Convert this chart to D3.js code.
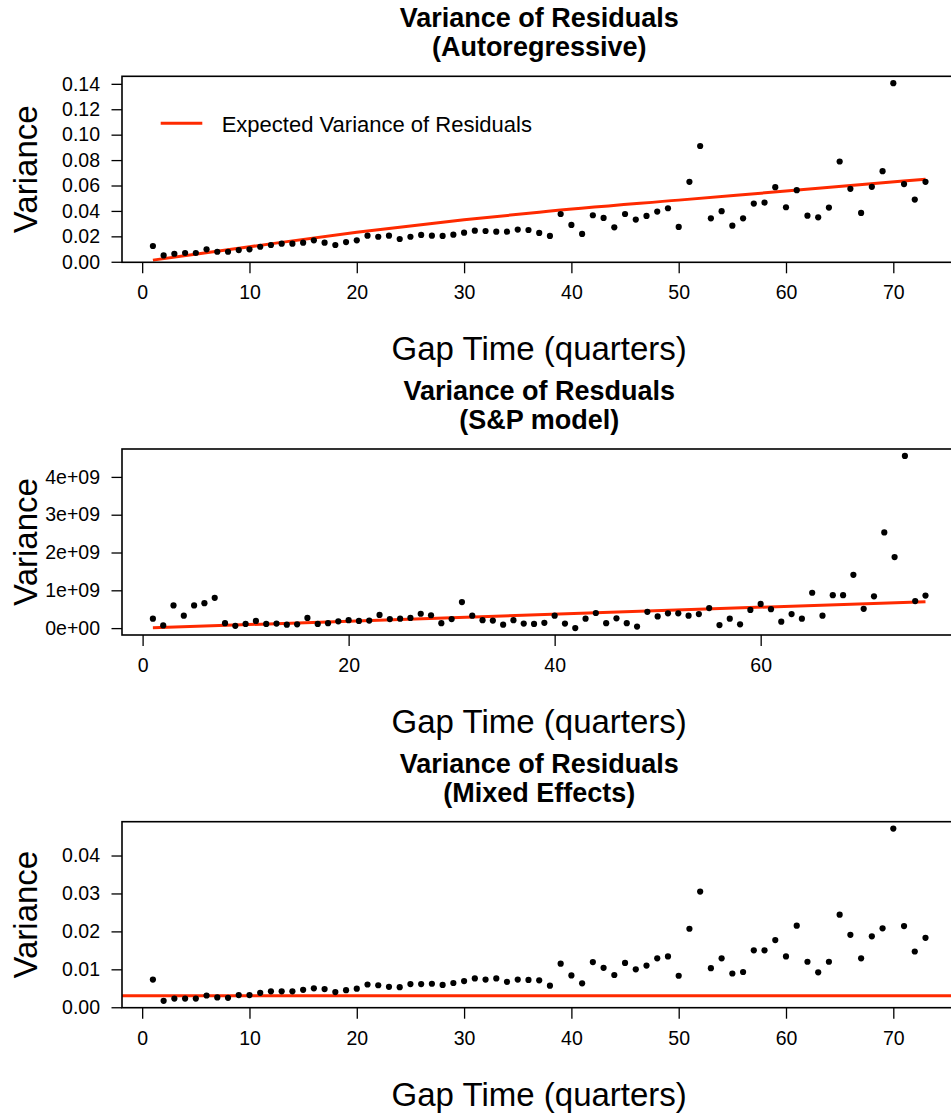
<!DOCTYPE html>
<html>
<head>
<meta charset="utf-8">
<script src="https://cdn.jsdelivr.net/npm/d3@7"></script>
<style>
body { margin: 0; background: #fff; }
svg { display: block; font-family: "Liberation Sans", Arial, Helvetica, sans-serif; }
</style>
</head>
<body>
<div id="chart"></div>
<script>
// residual variance by gap time (index 0 = 1 quarter)
var arVar = [0.0124, 0.0050, 0.0063, 0.0069, 0.0069, 0.0098, 0.0079, 0.0079, 0.0092, 0.0098,
             0.0118, 0.0132, 0.0142, 0.0142, 0.0150, 0.0169, 0.0150, 0.0132, 0.0155, 0.0169,
             0.0205, 0.0197, 0.0205, 0.0179, 0.0197, 0.0211, 0.0205, 0.0203, 0.0213, 0.0229,
             0.0245, 0.0242, 0.0237, 0.0237, 0.0253, 0.0250, 0.0227, 0.0203, 0.0376, 0.0290,
             0.0219, 0.0366, 0.0345, 0.0271, 0.0376, 0.0332, 0.0361, 0.0395, 0.0421, 0.0274,
             0.0629, 0.0911, 0.0342, 0.0398, 0.0284, 0.0342, 0.0458, 0.0466, 0.0587, 0.0429,
             0.0563, 0.0363, 0.0350, 0.0426, 0.0789, 0.0574, 0.0384, 0.0590, 0.0713, 0.1405,
             0.0611, 0.0489, 0.0629];

// S&P model, in units of 1e9
var spVar = [0.25, 0.07, 0.60, 0.33, 0.60, 0.66, 0.80, 0.13, 0.06, 0.11,
             0.19, 0.11, 0.12, 0.09, 0.10, 0.27, 0.11, 0.13, 0.18, 0.21,
             0.19, 0.20, 0.35, 0.24, 0.25, 0.27, 0.38, 0.34, 0.13, 0.24,
             0.69, 0.33, 0.21, 0.20, 0.09, 0.21, 0.12, 0.11, 0.14, 0.33,
             0.12, 0.00, 0.25, 0.40, 0.13, 0.26, 0.13, 0.04, 0.43, 0.31,
             0.39, 0.39, 0.33, 0.37, 0.53, 0.08, 0.25, 0.10, 0.48, 0.64,
             0.50, 0.17, 0.37, 0.25, 0.935, 0.33, 0.87, 0.87, 1.41, 0.51,
             0.84, 2.53, 1.88, 4.556, 0.715, 0.86];

var meVar = [0.0073, 0.0017, 0.0023, 0.0023, 0.0023, 0.0031, 0.0026, 0.0025, 0.0032, 0.0032,
             0.0038, 0.0042, 0.0042, 0.0042, 0.0046, 0.0050, 0.0048, 0.0040, 0.0045, 0.0049,
             0.0060, 0.0058, 0.0054, 0.0053, 0.0061, 0.0061, 0.0062, 0.0059, 0.0064, 0.0069,
             0.0076, 0.0073, 0.0076, 0.0067, 0.0073, 0.0072, 0.0071, 0.0057, 0.0115, 0.0084,
             0.0063, 0.0119, 0.0104, 0.0085, 0.0117, 0.0100, 0.0110, 0.0129, 0.0134, 0.0083,
             0.0207, 0.0305, 0.0103, 0.0129, 0.0089, 0.0093, 0.0150, 0.0150, 0.0177, 0.0134,
             0.0215, 0.0120, 0.0092, 0.0120, 0.0244, 0.0191, 0.0129, 0.0187, 0.0208, 0.0471,
             0.0214, 0.0147, 0.0183];

// expected variance lines
var arExpGap = [1, 10, 20, 30, 37, 50, 60, 73];
var arExpVal = [0.0013, 0.0118, 0.0232, 0.0330, 0.0390, 0.0485, 0.0556, 0.0650];
var spExpGap = [1, 76];
var spExpVal = [0.008, 0.70];
var meExpLevel = 0.00306;

var arYTicks = [0, 0.02, 0.04, 0.06, 0.08, 0.10, 0.12, 0.14];
var spYTicks = [0, 1, 2, 3, 4];
var spYLabels = ["0e+00", "1e+09", "2e+09", "3e+09", "4e+09"];
var meYTicks = [0, 0.01, 0.02, 0.03, 0.04];
var gapTicks70 = [0, 10, 20, 30, 40, 50, 60, 70];
var gapTicks60 = [0, 20, 40, 60];

var W = 951, H = 1114;
var left = 122, right = 956.4, boxH = 186, firstTop = 76.3, step = 372.7;
var red = "#fe2a00";

var svg = d3.select("#chart").append("svg")
    .attr("width", W).attr("height", H);

// R-like range: data extent padded by 4% each side
function pad(lo, hi) {
    var r = hi - lo;
    return [lo - 0.04 * r, hi + 0.04 * r];
}

function drawPanel(i, o) {
    var top = firstTop + i * step, bottom = top + boxH;
    var n = o.values.length;
    var x = d3.scaleLinear().domain(pad(1, n)).range([left, right]);
    var y = d3.scaleLinear().domain(pad(d3.min(o.values), d3.max(o.values))).range([bottom, top]);

    var g = svg.append("g");

    // title, two lines
    g.append("text").attr("x", (left + right) / 2).attr("y", top - 49)
        .attr("text-anchor", "middle").style("font-size", "27px").style("font-weight", "bold")
        .text(o.title[0]);
    g.append("text").attr("x", (left + right) / 2).attr("y", top - 20)
        .attr("text-anchor", "middle").style("font-size", "27px").style("font-weight", "bold")
        .text(o.title[1]);

    var xAxis = g.append("g").attr("transform", "translate(0," + bottom + ")")
        .call(d3.axisBottom(x).tickValues(o.xTicks).tickSize(11).tickPadding(12).tickFormat(d3.format("d")));
    var yAxis = g.append("g").attr("transform", "translate(" + left + ",0)")
        .call(d3.axisLeft(y).tickValues(o.yTicks).tickSize(10.5).tickPadding(11.5)
            .tickFormat(function(d, k) { return o.yLabels[k]; }));
    [xAxis, yAxis].forEach(function(a) {
        a.select(".domain").remove();
        a.selectAll("line").attr("stroke", "#000").attr("stroke-width", 1.3);
        a.selectAll("text").attr("fill", "#000").style("font-size", "19.5px")
            .style("font-family", '"Liberation Sans", Arial, sans-serif');
    });

    // clip so lines stay inside the box
    var clipId = "clip" + i;
    svg.append("clipPath").attr("id", clipId).append("rect")
        .attr("x", left).attr("y", top).attr("width", right - left).attr("height", boxH);
    var inner = g.append("g").attr("clip-path", "url(#" + clipId + ")");

    if (o.expLevel != null) {
        inner.append("line")
            .attr("x1", left).attr("x2", right)
            .attr("y1", y(o.expLevel)).attr("y2", y(o.expLevel))
            .attr("stroke", red).attr("stroke-width", 3);
    } else {
        var line = d3.line()
            .x(function(d) { return x(d[0]); })
            .y(function(d) { return y(d[1]); })
            .curve(d3.curveMonotoneX);
        inner.append("path")
            .datum(d3.zip(o.expGap, o.expVal))
            .attr("d", line)
            .attr("fill", "none").attr("stroke", red).attr("stroke-width", 3);
    }

    inner.selectAll("circle")
        .data(o.values)
        .enter()
        .append("circle")
        .attr("cx", function(d, k) { return x(k + 1); })
        .attr("cy", function(d) { return y(d); })
        .attr("r", 3.1)
        .attr("fill", "#000");

    g.append("rect")
        .attr("x", left).attr("y", top).attr("width", right - left).attr("height", boxH)
        .attr("fill", "none").attr("stroke", "#000").attr("stroke-width", 1.6);

    g.append("text")
        .attr("transform", "translate(37.3," + (top + boxH / 2) + ") rotate(-90)")
        .attr("text-anchor", "middle").style("font-size", "33px")
        .text("Variance");
    g.append("text")
        .attr("x", (left + right) / 2).attr("y", bottom + 98)
        .attr("text-anchor", "middle").style("font-size", "33px")
        .text("Gap Time (quarters)");

    if (o.legend) {
        g.append("line")
            .attr("x1", 160.7).attr("x2", 202.3).attr("y1", top + 47).attr("y2", top + 47)
            .attr("stroke", red).attr("stroke-width", 3);
        g.append("text").attr("x", 221.7).attr("y", top + 55.4)
            .style("font-size", "22px").text(o.legend);
    }
}

drawPanel(0, {
    title: ["Variance of Residuals", "(Autoregressive)"],
    values: arVar, expGap: arExpGap, expVal: arExpVal,
    xTicks: gapTicks70, yTicks: arYTicks, yLabels: arYTicks.map(d3.format(".2f")),
    legend: "Expected Variance of Residuals"
});
drawPanel(1, {
    title: ["Variance of Resduals", "(S&P model)"],
    values: spVar, expGap: spExpGap, expVal: spExpVal,
    xTicks: gapTicks60, yTicks: spYTicks, yLabels: spYLabels
});
drawPanel(2, {
    title: ["Variance of Residuals", "(Mixed Effects)"],
    values: meVar, expLevel: meExpLevel,
    xTicks: gapTicks70, yTicks: meYTicks, yLabels: meYTicks.map(d3.format(".2f"))
});
</script>
</body>
</html>
